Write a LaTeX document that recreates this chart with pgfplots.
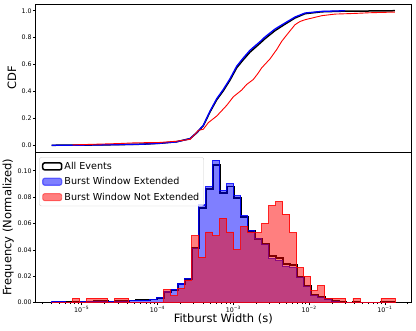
\documentclass[border=0pt]{standalone}
\usepackage{fontspec}
\setmainfont{DejaVu Sans}
\usepackage{pgfplots}
\usepackage{pgfplotstable}
\pgfplotsset{compat=1.18}

% histogram bins: left edge in log10(width), last row = right edge of last bin
\pgfplotstableread{
e      R       B       K
-5.396 0       0.0008  0.0008
-5.304 0       0.0008  0.0008
-5.211 0       0.0003  0.0003
-5.119 0.0033  0.0002  0.0004
-5.026 0       0.0005  0.0005
-4.934 0.0033  0.0004  0.0006
-4.841 0.0033  0.0008  0.0009
-4.749 0.0033  0.0008  0.0009
-4.657 0       0.0005  0.0005
-4.564 0.0033  0.0009  0.0010
-4.472 0.0033  0.0009  0.0010
-4.379 0       0.0015  0.0015
-4.287 0       0.0017  0.0017
-4.194 0       0.0018  0.0018
-4.102 0       0.0023  0.0022
-4.010 0       0.0035  0.0034
-3.917 0.0099  0.0080  0.0081
-3.825 0.0050  0.0100  0.0097
-3.732 0.0110  0.0140  0.0138
-3.640 0.0170  0.0180  0.0180
-3.547 0.0505  0.0410  0.0415
-3.455 0.0345  0.0740  0.0720
-3.363 0.0535  0.0880  0.0860
-3.270 0.0505  0.1080  0.1045
-3.178 0.0640  0.0850  0.0830
-3.085 0.0535  0.0900  0.0880
-2.993 0.0400  0.0810  0.0795
-2.900 0.0575  0.0660  0.0650
-2.808 0.0535  0.0545  0.0545
-2.716 0.0530  0.0485  0.0480
-2.623 0.0600  0.0440  0.0445
-2.531 0.0735  0.0335  0.0350
-2.438 0.0765  0.0320  0.0335
-2.346 0.0670  0.0275  0.0295
-2.253 0.0530  0.0265  0.0283
-2.161 0.0265  0.0190  0.0195
-2.069 0.0200  0.0120  0.0125
-1.976 0.0090  0.0050  0.0055
-1.884 0.0130  0.0040  0.0043
-1.791 0.0033  0.0023  0.0025
-1.699 0.0033  0.0010  0.0012
-1.606 0.0033  0.0002  0.0004
-1.514 0       0       0
-1.421 0.0033  0       0.0002
-1.329 0       0       0
-1.237 0       0       0
-1.144 0       0       0
-1.052 0.0033  0       0.0002
-0.959 0.0033  0       0.0002
-0.867 0.0033  0       0.0002
}\histdata

\pgfplotsset{
  panel/.style={
    scale only axis, width=375.5pt,
    xmin=-5.6095, xmax=-0.6557,
    axis line style={black, line width=0.6pt},
    tick align=outside, tick pos=left,
    major tick length=2.7pt, minor tick length=1.6pt,
    every tick/.style={black, line width=0.5pt},
    ticklabel style={font=\fontsize{6.3}{7}\selectfont, inner sep=1pt},
    /pgf/number format/assume math mode=true,
    ylabel style={font=\fontsize{11.5}{13}\selectfont, anchor=center},
  },
}

\begin{document}
\begin{tikzpicture}
\begin{axis}[panel,
  at={(35.5pt,-4pt)}, anchor=north west, height=148pt,
  ymin=-0.05, ymax=1.05,
  xtick=\empty,
  ytick={0,0.2,0.4,0.6,0.8,1.0},
  yticklabel style={/pgf/number format/.cd, fixed, fixed zerofill, precision=1},
  ylabel={CDF},
  ylabel style={at={(axis description cs:-0.0626,0.5)}},
]
\addplot[black, line width=1.5pt] coordinates {
(-5.396,0) (-5.0,0.001) (-4.6,0.004) (-4.2,0.008) (-3.967,0.015) (-3.75,0.026)
(-3.571,0.049) (-3.483,0.092) (-3.396,0.145) (-3.307,0.248) (-3.219,0.338)
(-3.132,0.405) (-3.044,0.484) (-2.955,0.576) (-2.868,0.636) (-2.78,0.692)
(-2.70,0.732) (-2.648,0.758) (-2.582,0.792) (-2.45,0.852) (-2.318,0.9)
(-2.186,0.946) (-2.054,0.978) (-1.834,0.992) (-1.526,0.997) (-1.2,0.998) (-0.867,1.0)
};
\addplot[blue, line width=1.3pt] coordinates {
(-5.396,0) (-5.0,0.001) (-4.6,0.004) (-4.2,0.008) (-3.967,0.015) (-3.75,0.025)
(-3.571,0.049) (-3.483,0.094) (-3.396,0.148) (-3.307,0.254) (-3.219,0.346)
(-3.132,0.415) (-3.044,0.494) (-2.955,0.588) (-2.868,0.649) (-2.78,0.706)
(-2.70,0.745) (-2.648,0.77) (-2.582,0.805) (-2.45,0.864) (-2.318,0.909)
(-2.186,0.953) (-2.054,0.983) (-1.834,0.995) (-1.526,1.0)
};
\addplot[red, line width=0.9pt] coordinates {
(-5.119,0.003) (-4.8,0.008) (-4.5,0.013) (-4.3,0.018) (-3.967,0.021) (-3.75,0.03)
(-3.571,0.044) (-3.527,0.069) (-3.46,0.111) (-3.396,0.119) (-3.33,0.168)
(-3.219,0.217) (-3.088,0.296) (-3.0,0.36) (-2.89,0.41) (-2.824,0.452)
(-2.736,0.489) (-2.68,0.53) (-2.626,0.575) (-2.516,0.642) (-2.428,0.711)
(-2.361,0.773) (-2.274,0.835) (-2.186,0.896) (-2.12,0.92) (-2.054,0.933)
(-1.834,0.963) (-1.658,0.975) (-1.394,0.98) (-1.2,0.985) (-0.867,0.99)
};
\end{axis}

\begin{axis}[panel,
  at={(35.5pt,-152pt)}, anchor=north west, height=150.5pt,
  ymin=0, ymax=0.1142,
  ytick={0,0.02,0.04,0.06,0.08,0.10},
  yticklabel style={/pgf/number format/.cd, fixed, fixed zerofill, precision=2},
  xtick={-5,-4,-3,-2,-1},
  xticklabels={10\textsuperscript{−5},10\textsuperscript{−4},10\textsuperscript{−3},10\textsuperscript{−2},10\textsuperscript{−1}},
  minor xtick={-5.523,-5.398,-5.301,-5.222,-5.155,-5.097,-5.046,
    -4.699,-4.523,-4.398,-4.301,-4.222,-4.155,-4.097,-4.046,
    -3.699,-3.523,-3.398,-3.301,-3.222,-3.155,-3.097,-3.046,
    -2.699,-2.523,-2.398,-2.301,-2.222,-2.155,-2.097,-2.046,
    -1.699,-1.523,-1.398,-1.301,-1.222,-1.155,-1.097,-1.046,-0.699},
  xlabel={Fitburst Width (s)},
  xlabel style={font=\fontsize{11.5}{13}\selectfont, at={(axis description cs:0.5,-0.11)}, anchor=center},
  ylabel={Frequency (Normalized)},
  ylabel style={at={(axis description cs:-0.0724,0.5)}},
  legend cell align=left,
  legend style={at={(0.010,0.965)}, anchor=north west,
    font=\fontsize{9.6}{11}\selectfont,
    draw=black!20, rounded corners=2pt, fill=white, fill opacity=0.8, text opacity=1,
    row sep=2.6pt, inner xsep=2.5pt, inner ysep=2.5pt},
]
\addplot[const plot mark left, black, line width=1.8pt,
  legend image code/.code={\draw[black, line width=1.5pt] (0pt,-3.5pt) rectangle (19pt,3.5pt);}]
  table[x=e, y=K] {\histdata};
\addlegendentry{All Events}
\addplot[const plot mark left, draw=blue, line width=1.1pt, fill=blue, fill opacity=0.5, draw opacity=0.85,
  legend image code/.code={\fill[blue, opacity=0.5] (0pt,-3.5pt) rectangle (19pt,3.5pt);}]
  table[x=e, y=B] {\histdata} \closedcycle;
\addlegendentry{Burst Window Extended}
\addplot[const plot mark left, draw=red, line width=0.9pt, fill=red, fill opacity=0.5, draw opacity=0.85,
  legend image code/.code={\fill[red, opacity=0.5] (0pt,-3.5pt) rectangle (19pt,3.5pt);}]
  table[x=e, y=R] {\histdata} \closedcycle;
\addlegendentry{Burst Window Not Extended}
\end{axis}
\pgfresetboundingbox
\path (0pt,0pt) rectangle (416pt,-331pt);
\end{tikzpicture}
\end{document}
